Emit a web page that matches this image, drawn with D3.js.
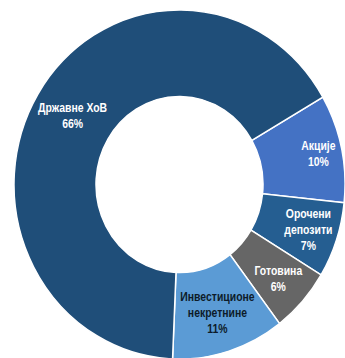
<!DOCTYPE html>
<html><head><meta charset="utf-8">
<script src="https://cdn.jsdelivr.net/npm/d3@7"></script>
<style>
html,body{margin:0;padding:0;background:#fff;}
svg{display:block;}
text{font-family:"Liberation Sans Narrow","Arial Narrow","Liberation Sans",Arial,sans-serif;font-weight:bold;font-size:12px;}
</style></head>
<body>
<svg id="chart" width="345" height="358"></svg>
<script>
const categories = ["Акције", "Орочени депозити", "Готовина", "Инвестиционе некретнине", "Државне ХоВ"];
const labelLines = [["Акције"], ["Орочени", "депозити"], ["Готовина"], ["Инвестиционе", "некретнине"], ["Државне ХоВ"]];
const values = [10, 7, 6, 11, 66];
const colors = ["#4472C4", "#255E91", "#666666", "#5B9BD5", "#1F4E79"];
const labelColors = ["#ffffff", "#ffffff", "#ffffff", "#0d1b2a", "#ffffff"];

const W = 345, H = 358;
const cx = 179.5, cy = 184.5, R = 165.5, r = 83.5, sy = 1.055;
const labelRadius = [142, 136, 133, 127, 125];
const svg = d3.select("#chart");

const pie = d3.pie().sort(null).value(d => d.v).startAngle(60 * Math.PI / 180).endAngle(60 * Math.PI / 180 + 2 * Math.PI);
const data = categories.map((c, i) => ({c, v: values[i], i}));
const arcs = pie(data);
const arc = d3.arc().innerRadius(r).outerRadius(R);

const g = svg.append("g").attr("transform", `translate(${cx},${cy}) scale(1,${sy})`);
g.selectAll("path").data(arcs).join("path")
  .attr("d", arc)
  .attr("fill", d => colors[d.data.i])
  .attr("stroke", "#ffffff")
  .attr("stroke-width", 1.5)
  .attr("vector-effect", "non-scaling-stroke");

const lineH = 16;
const lg = svg.append("g").attr("transform", `translate(${cx},${cy})`);
arcs.forEach(d => {
  const lr = labelRadius[d.data.i];
  const [x, y] = d3.arc().innerRadius(lr).outerRadius(lr).centroid(d);
  const lines = labelLines[d.data.i].concat([d3.format(".0%")(d.data.v / 100)]);
  const t = lg.append("text")
    .attr("transform", `translate(${x},${y * sy}) scale(0.87,1)`)
    .attr("text-anchor", "middle")
    .attr("fill", labelColors[d.data.i]);
  const n = lines.length;
  lines.forEach((s, k) => {
    t.append("tspan").attr("x", 0)
      .attr("y", (k - (n - 1) / 2) * lineH)
      .attr("dy", "0.35em")
      .text(s);
  });
});
</script>
</body></html>
